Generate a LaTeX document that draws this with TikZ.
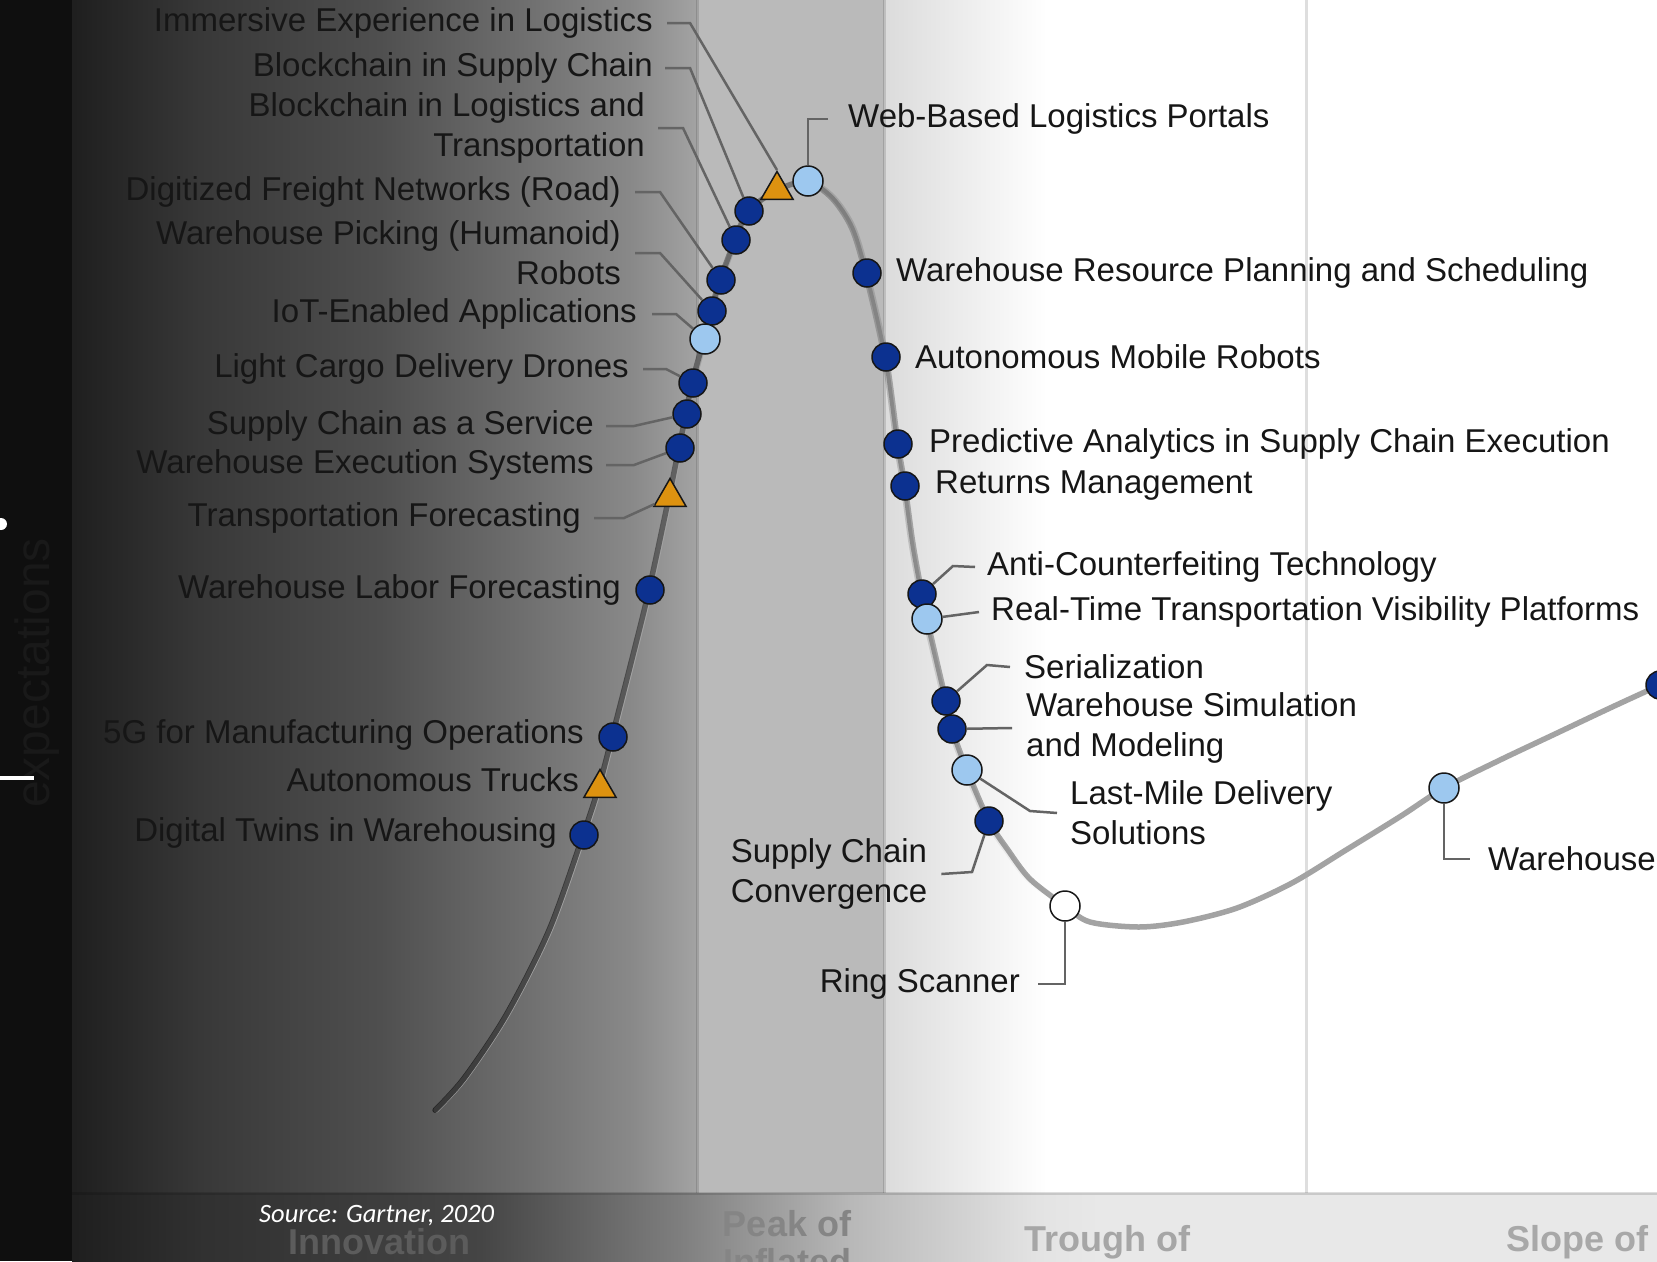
\documentclass[tikz,border=0pt]{standalone}
\usepackage{fontspec}
\setmainfont{Liberation Sans}
\newfontfamily\srcfont{Carlito}
\usetikzlibrary{shapes.geometric,fadings}
\definecolor{navy}{HTML}{0C3190}
\definecolor{sky}{HTML}{9DC8EF}
\definecolor{amber}{HTML}{DD9210}
\definecolor{ink}{HTML}{161616}
\definecolor{leadgray}{HTML}{646464}
\tikzfading[name=curvefade, left color=transparent!34, right color=transparent!100, middle color=transparent!100]

\begin{document}
\begin{tikzpicture}[x=1pt,y=-1pt,
  lbl/.style={font=\fontsize{33}{40}\selectfont, text=ink, inner sep=0pt},
  phase/.style={font=\bfseries\fontsize{36}{38}\selectfont, inner sep=0pt, align=center},
  tech/.style={circle, draw=ink, line width=1.5pt, fill=navy, minimum size=28pt, inner sep=0pt},
  lite/.style={tech, fill=sky, minimum size=30pt},
  blank/.style={tech, fill=white, minimum size=30pt},
  tri/.style={regular polygon, regular polygon sides=3, draw=ink, line width=1.5pt, fill=amber, minimum size=37pt, inner sep=0pt},
  lead/.style={draw=leadgray, line width=2.5pt},
  sep/.style={draw=black, draw opacity=.13, line width=3pt},
  hypeline/.style={line width=5.5pt, draw=white!64!black, line cap=round},
  hypeshade/.style={hypeline, draw=black, path fading=curvefade}]

\useasboundingbox (0,0) rectangle (1657,1261);
\clip (0,0) rectangle (1657,1261);

% background bands
\fill[white] (0,0) rectangle (1657,1261);
\fill[white!6!black] (0,0) rectangle (72,1261);
\foreach \xa/\xb/\ga/\gb in {72/200/12/22, 200/380/22/31, 380/530/31/44, 530/634/44/54, 634/697/54/64, 884/1046/86/100}
  \shade[left color=white!\ga!black, right color=white!\gb!black] (\xa,0) rectangle (\xb+1,1193);
\fill[white!73!black] (697,0) rectangle (884,1193);
\foreach \xa/\xb/\ga/\gb in {72/200/12/19, 200/480/19/27, 480/683/27/50, 683/850/50/72, 850/1036/72/89, 1036/1100/89/91, 1100/1657/91/91}
  \shade[left color=white!\ga!black, right color=white!\gb!black] (\xa,1193) rectangle (\xb+1,1261);
\foreach \x in {697,884,1306}
  \draw[sep] (\x,0) -- (\x,1193);
\draw[sep] (72,1193) -- (1657,1193);

% hype curve
\foreach \look in {hypeline, hypeshade}
  \draw[\look] plot[smooth, tension=.5] coordinates {(436,1110) (465,1078) (507,1015) (550,930) (584,835) (600,786) (613,737) (634,655) (650,590) (670,497) (680,448) (687,414) (693,383) (705,339) (712,311) (721,280) (736,240) (749,211) (777,190) (808,181) (833,197) (853,227) (867,273) (886,357) (898,444) (905,486) (913,544) (922,594) (927,619) (946,701) (952,729) (967,770) (989,821) (1008,850) (1030,879) (1065,906) (1090,922) (1139,927) (1183,922) (1237,908) (1292,883) (1346,850) (1401,816) (1444,788) (1500,760) (1555,734) (1610,708) (1660,685)};

% markers
\node[tri] (tImm) at (777,190) {};
\node[tech] (dBsc) at (749,211) {};
\node[tech] (dBlt) at (736,240) {};
\node[tech] (dDfn) at (721,280) {};
\node[tech] (dWpr) at (712,311) {};
\node[lite] (dIot) at (705,339) {};
\node[tech] (dLcd) at (693,383) {};
\node[tech] (dScs) at (687,414) {};
\node[tech] (dWes) at (680,448) {};
\node[tri] (tTf) at (670,497) {};
\node[tech] (dWlf) at (650,590) {};
\node[tech] (d5g) at (613,737) {};
\node[tri] (tAt) at (600,788) {};
\node[tech] (dDt) at (584,835) {};
\node[lite] (dWbl) at (808,181) {};
\node[tech] (dWrp) at (867,273) {};
\node[tech] (dAmr) at (886,357) {};
\node[tech] (dPa) at (898,444) {};
\node[tech] (dRm) at (905,486) {};
\node[tech] (dAct) at (922,594) {};
\node[lite] (dRtt) at (927,619) {};
\node[tech] (dSer) at (946,701) {};
\node[tech] (dWsm) at (952,729) {};
\node[lite] (dLmd) at (967,770) {};
\node[tech] (dScc) at (989,821) {};
\node[blank] (dRs) at (1065,906) {};
\node[lite] (dWh) at (1444,788) {};
\node[tech] (dEdge) at (1660,685) {};

% labels on the rising side
\node[lbl, anchor=east] (lImm) at (653,23) {Immersive Experience in Logistics};
\node[lbl, anchor=east] (lBsc) at (653,68) {Blockchain in Supply Chain};
\node[lbl, anchor=east, align=right] (lBlt) at (645,128) {Blockchain in Logistics and\\Transportation};
\node[lbl, anchor=east] (lDfn) at (621,192) {Digitized Freight Networks (Road)};
\node[lbl, anchor=east, align=right] (lWpr) at (621,253) {Warehouse Picking (Humanoid)\\Robots};
\node[lbl, anchor=east] (lIot) at (637,314) {IoT-Enabled Applications};
\node[lbl, anchor=east] (lLcd) at (629,369) {Light Cargo Delivery Drones};
\node[lbl, anchor=east] (lScs) at (594,426) {Supply Chain as a Service};
\node[lbl, anchor=east] (lWes) at (594,465) {Warehouse Execution Systems};
\node[lbl, anchor=east] (lTf) at (581,518) {Transportation Forecasting};
\node[lbl, anchor=east] (lWlf) at (621,590) {Warehouse Labor Forecasting};
\node[lbl, anchor=east] (l5g) at (584,735) {5G for Manufacturing Operations};
\node[lbl, anchor=east] (lAt) at (579,780) {Autonomous Trucks};
\node[lbl, anchor=east] (lDt) at (557,833) {Digital Twins in Warehousing};

\draw[lead] ([xshift=14pt]lImm.east) -- ++(23,0) -- (tImm.corner 1);
\draw[lead] ([xshift=12pt]lBsc.east) -- ++(25,0) -- (dBsc);
\draw[lead] ([xshift=13pt]lBlt.east) -- ++(25,0) -- (dBlt);
\draw[lead] ([xshift=14pt]lDfn.east) -- ++(25,0) -- (dDfn);
\draw[lead] ([xshift=14pt]lWpr.east) -- ++(25,0) -- (dWpr);
\draw[lead] ([xshift=15pt]lIot.east) -- ++(24,0) -- (dIot);
\draw[lead] ([xshift=14pt]lLcd.east) -- ++(23,0) -- (dLcd);
\draw[lead] ([xshift=12pt]lScs.east) -- ++(28,0) -- (dScs);
\draw[lead] ([xshift=12pt]lWes.east) -- ++(28,0) -- (dWes);
\draw[lead] ([xshift=13pt]lTf.east) -- ++(30,0) -- (tTf);

% labels on the falling and rising right side
\node[lbl, anchor=west] (lWbl) at (848,119) {Web-Based Logistics Portals};
\node[lbl, anchor=west] (lWrp) at (896,273) {Warehouse Resource Planning and Scheduling};
\node[lbl, anchor=west] (lAmr) at (915,357) {Autonomous Mobile Robots};
\node[lbl, anchor=west] (lPa) at (929,444) {Predictive Analytics in Supply Chain Execution};
\node[lbl, anchor=west] (lRm) at (935,486) {Returns Management};
\node[lbl, anchor=west] (lAct) at (987,567) {Anti-Counterfeiting Technology};
\node[lbl, anchor=west] (lRtt) at (991,612) {Real-Time Transportation Visibility Platforms};
\node[lbl, anchor=west] (lSer) at (1024,667) {Serialization};
\node[lbl, anchor=west, align=left] (lWsm) at (1026,728) {Warehouse Simulation\\and Modeling};
\node[lbl, anchor=west, align=left] (lLmd) at (1070,813) {Last-Mile Delivery\\Solutions};
\node[lbl, align=center] (lScc) at (829,874) {Supply Chain\\Convergence};
\node[lbl, anchor=east] (lRs) at (1020,984) {Ring Scanner};
\node[lbl, anchor=west] (lWh) at (1488,859) {Warehouse};

\draw[lead] (dWbl) |- ([xshift=-20pt]lWbl.west);
\draw[lead] (dAct) -- ++(31,-28) -- ([xshift=-12pt]lAct.west);
\draw[lead] (dRtt) -- ([xshift=-12pt]lRtt.west);
\draw[lead] (dSer) -- ++(41,-36) -- ([xshift=-14pt]lSer.west);
\draw[lead] (dWsm) -- ([xshift=-14pt]lWsm.west);
\draw[lead] (dLmd) -- ++(63,41) -- ([xshift=-13pt]lLmd.west);
\draw[lead] (dScc) -- ++(-17,51) -- ([xshift=14pt]lScc.east);
\draw[lead] (dRs) |- ([xshift=18pt]lRs.east);
\draw[lead] (dWh) |- ([xshift=-18pt]lWh.west);

% axis texts
\node[phase, text=white!36!black] (pInn) at (379,1242) {Innovation};
\node[phase, text=white!52!black, anchor=north] (pPeak) at (787,1210) {Peak of\\Inflated};
\node[phase, text=white!65!black] (pTrough) at (1107,1242) {Trough of};
\node[phase, text=white!66!black] (pSlope) at (1577,1242) {Slope of};
\node[rotate=90, font=\fontsize{48}{48}\selectfont, text=white!10!black, inner sep=0pt] (yAxis) at (37,673) {expectations};
\node[anchor=west, text=white, font=\srcfont\itshape\fontsize{26.5}{26.5}\selectfont, inner sep=0pt] (src) at (259,1216) {Source: Gartner, 2020};

\fill[white] (1,524) circle (6);
\draw[white, line width=4pt] (0,778) -- (34,778);
\end{tikzpicture}
\end{document}
